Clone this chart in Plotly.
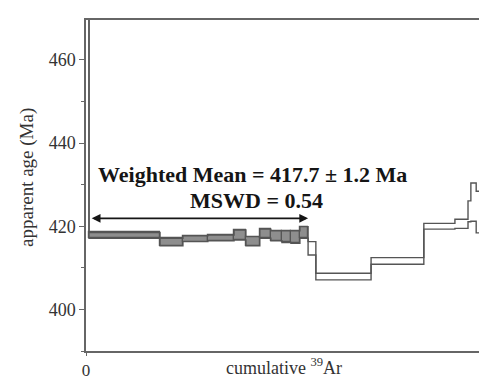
import plotly.graph_objects as go

# Step boundaries (cumulative 39Ar fraction) and apparent ages (Ma) with 1-sigma errors
step_edges = [0.0, 0.0073, 0.181, 0.237, 0.298, 0.362, 0.391, 0.425, 0.452, 0.479, 0.501, 0.523,
              0.543, 0.562, 0.697, 0.826, 0.902, 0.934, 0.941, 0.954, 0.963, 0.993, 1.007, 1.06]
step_ages = [490.0, 417.8, 416.2, 417.0, 417.2, 417.9, 416.4, 418.2, 417.7, 417.5, 417.4, 418.5,
             414.7, 407.9, 411.65, 420.0, 420.6, 423.6, 425.8, 423.4, 424.8, 427.3, 437.0]
step_errs = [10.0, 0.7, 0.9, 0.7, 0.7, 1.2, 1.1, 1.1, 1.2, 1.4, 1.5, 1.4,
             1.6, 0.8, 0.8, 0.7, 1.1, 2.5, 4.6, 5.0, 1.8, 1.1, 1.0]
plateau_steps = list(range(1, 12))  # indices of steps in the weighted-mean plateau

y_tick_vals = [400, 420, 440, 460]
y_tick_text = ["400", "420", "440", "460"]
mean_label = "Weighted Mean = 417.7 ± 1.2 Ma"
mswd_label = "MSWD = 0.54"

SERIF = "Liberation Serif, Times New Roman, serif"
LINE = "#555555"

fig = go.Figure()

# plateau boxes (filled)
px_c = [(step_edges[i] + step_edges[i + 1]) / 2 for i in plateau_steps]
px_w = [step_edges[i + 1] - step_edges[i] for i in plateau_steps]
px_b = [step_ages[i] - step_errs[i] for i in plateau_steps]
px_h = [2 * step_errs[i] for i in plateau_steps]
fig.add_trace(go.Bar(x=px_c, y=px_h, base=px_b, width=px_w,
                     marker=dict(color="#8e8e8e", line=dict(color=LINE, width=1.2)),
                     showlegend=False, hoverinfo="skip"))

# upper and lower staircase outlines
upper = [a + e for a, e in zip(step_ages, step_errs)]
lower = [a - e for a, e in zip(step_ages, step_errs)]
for vals in (upper, lower):
    fig.add_trace(go.Scatter(x=step_edges, y=vals + [vals[-1]], mode="lines",
                             line=dict(color=LINE, width=1.4, shape="hv"),
                             showlegend=False, hoverinfo="skip"))

x0 = step_edges[plateau_steps[0]] + 0.003
x1 = step_edges[plateau_steps[-1] + 1]
fig.add_annotation(x=x1, y=421.9, ax=x0, ay=421.9, xref="x", yref="y", axref="x", ayref="y",
                   text="", showarrow=True, arrowhead=2, startarrowhead=2, arrowside="end+start",
                   arrowsize=1.1, startarrowsize=1.1, arrowwidth=1.6, arrowcolor="#151515")
fig.add_annotation(x=0.406, y=432.5, xref="x", yref="y", text="<b>" + mean_label + "</b>",
                   showarrow=False, font=dict(family=SERIF, size=22, color="#151515"))
fig.add_annotation(x=0.418, y=426.3, xref="x", yref="y", text="<b>" + mswd_label + "</b>",
                   showarrow=False, font=dict(family=SERIF, size=22, color="#151515"))

fig.add_annotation(x=-0.144, y=0.523, xref="paper", yref="paper", text="apparent age (Ma)",
                   xanchor="center", yanchor="middle",
                   textangle=-90, showarrow=False, font=dict(family=SERIF, size=19, color="#333"))
fig.add_annotation(x=0.485, y=-0.088, xref="paper", yref="paper",
                   xanchor="center", yanchor="bottom",
                   text="cumulative <sup>39</sup>Ar", showarrow=False,
                   font=dict(family=SERIF, size=18, color="#333"))

fig.update_layout(
    width=487, height=379,
    margin=dict(l=78, r=0, t=12, b=36),
    plot_bgcolor="white", paper_bgcolor="white",
    bargap=0,
    xaxis=dict(range=[0, 1], showgrid=False, zeroline=False, showline=True, linecolor="#666",
               linewidth=1.5, mirror=True, tickvals=[0], ticktext=["0"], ticks="outside",
               ticklen=3, tickcolor="#666",
               tickfont=dict(family=SERIF, size=17, color="#333")),
    yaxis=dict(range=[390, 469.6], showgrid=False, zeroline=False, showline=True, linecolor="#666",
               linewidth=1.5, tickvals=y_tick_vals, ticktext=y_tick_text, ticks="outside",
               ticklen=5, tickcolor="#666",
               minor=dict(tick0=0, dtick=10, ticks="outside", ticklen=3, tickcolor="#666"),
               tickfont=dict(family=SERIF, size=18, color="#333")),
)

fig.write_html("out.html")
